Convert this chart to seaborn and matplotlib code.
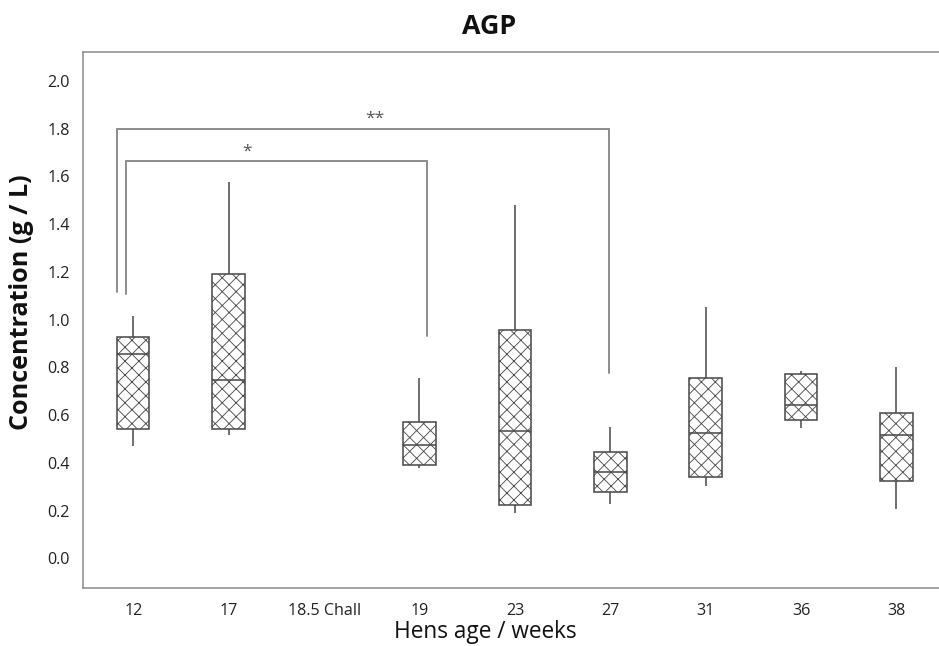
import numpy as np
import pandas as pd
import matplotlib
matplotlib.use("Agg")
import matplotlib.pyplot as plt
import seaborn as sns

# ---- data ----
weeks = ["12", "17", "18.5 Chall", "19", "23", "27", "31", "36", "38"]
box_weeks = ["12", "17", "19", "23", "27", "31", "36", "38"]
w_min = [0.47, 0.515, 0.377, 0.191, 0.227, 0.303, 0.545, 0.205]
q1 = [0.540, 0.540, 0.391, 0.222, 0.279, 0.341, 0.578, 0.324]
median = [0.856, 0.747, 0.473, 0.535, 0.362, 0.526, 0.644, 0.518]
q3 = [0.926, 1.191, 0.571, 0.956, 0.444, 0.754, 0.771, 0.607]
w_max = [1.015, 1.578, 0.757, 1.48, 0.549, 1.054, 0.786, 0.801]

yticks = [0.0, 0.2, 0.4, 0.6, 0.8, 1.0, 1.2, 1.4, 1.6, 1.8, 2.0]

# significance brackets: (left cat, right cat, height, left foot, right foot, label, left offset, right offset)
brackets = [
    ("12", "27", 1.797, 1.117, 0.775, "**", -0.17, -0.017),
    ("12", "19", 1.666, 1.107, 0.930, "*", -0.077, 0.075),
]
label_pos = {"**": (2.53, 1.84), "*": (1.19, 1.705)}

# ---- build long table: 5 points per group reproduce the five-number summary ----
rows = []
for w, a, b, c, d, e in zip(box_weeks, w_min, q1, median, q3, w_max):
    for v in (a, b, c, d, e):
        rows.append({"week": w, "value": v})
df = pd.DataFrame(rows)
df["week"] = pd.Categorical(df["week"], categories=weeks, ordered=True)

sns.set_style("white")
plt.rcParams["font.family"] = ["Open Sans", "DejaVu Sans"]
plt.rcParams["hatch.linewidth"] = 0.5

DPI = 125
W, H = 939, 646
fig = plt.figure(figsize=(W / DPI, H / DPI), dpi=DPI)
ax = fig.add_axes([83 / W, (H - 588) / H, (948 - 83) / W, (588 - 51.7) / H])

edge = "#4a4a4a"
lw = 0.9
sns.boxplot(
    data=df, x="week", y="value", order=weeks, ax=ax,
    whis=(0, 100), width=0.34, showcaps=False, showfliers=False,
    color="white", linecolor=edge, linewidth=lw,
    medianprops=dict(color=edge, linewidth=lw),
    whiskerprops=dict(color=edge, linewidth=lw),
    boxprops=dict(facecolor="white", edgecolor=edge, linewidth=lw),
)
for p in ax.patches:
    p.set_hatch("xxx")
    p.set_edgecolor(edge)
    p.set_facecolor("white")

pos = {w: i for i, w in enumerate(weeks)}
bcol = "#8a8a8a"
for left, right, h, lf, rf, lab, dxl, dxr in brackets:
    xl = pos[left] + dxl
    xr = pos[right] + dxr
    ax.plot([xl, xl, xr, xr], [lf, h, h, rf], color=bcol, lw=1.1,
            solid_joinstyle="miter", zorder=1)
    x, y = label_pos[lab]
    ax.text(x, y, lab, ha="center", va="center", fontsize=10, color="#555555")

ax.set_xlim(-0.527, (948 - 133.3) / 95.4)
ax.set_ylim(-0.124, 2.122)
ax.set_yticks(yticks)
ax.set_yticklabels([f"{t:.1f}" for t in yticks])
ax.set_xlabel("")
ax.set_ylabel("")

for s in ["left", "bottom", "top"]:
    ax.spines[s].set_visible(True)
    ax.spines[s].set_color("#8c8c8c")
    ax.spines[s].set_linewidth(0.9)
ax.spines["right"].set_visible(False)
ax.tick_params(axis="both", which="both", direction="out", length=3.5, width=0.8,
               color="#8c8c8c", labelsize=9.3, labelcolor="#222222", pad=4)
ax.tick_params(axis="x", pad=5)

fig.text(489 / W, 1 - 27 / H, "AGP", ha="center", va="center",
         fontsize=15.5, fontweight="bold", color="#111111")
fig.text(485 / W, 1 - 632 / H, "Hens age / weeks", ha="center", va="center",
         fontsize=13, color="#111111")
fig.text(22 / W, 1 - 302 / H, "Concentration (g / L)", ha="center", va="center",
         rotation=90, fontsize=14.5, fontweight="bold", color="#111111")

fig.savefig("out.png", dpi=DPI)
